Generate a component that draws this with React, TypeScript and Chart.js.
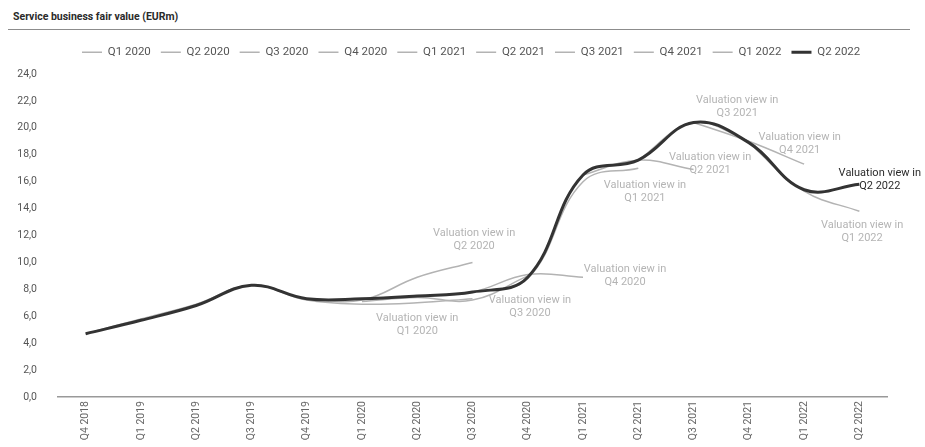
import React, { useEffect, useRef } from 'react';
import { Chart, registerables } from 'chart.js';

Chart.register(...registerables);

// ---------- data ----------
const quarters = [
  'Q4 2018', 'Q1 2019', 'Q2 2019', 'Q3 2019', 'Q4 2019', 'Q1 2020', 'Q2 2020', 'Q3 2020',
  'Q4 2020', 'Q1 2021', 'Q2 2021', 'Q3 2021', 'Q4 2021', 'Q1 2022', 'Q2 2022',
];

const viewNames = [
  'Q1 2020', 'Q2 2020', 'Q3 2020', 'Q4 2020', 'Q1 2021',
  'Q2 2021', 'Q3 2021', 'Q4 2021', 'Q1 2022', 'Q2 2022',
];

const N = null;
const viewQ1_2020 = [4.7, 5.8, 6.9, 8.3, 7.2, 6.9, 7.0, 7.3, N, N, N, N, N, N, N];
const viewQ2_2020 = [N, N, N, N, 7.3, 7.2, 8.9, 10.0, N, N, N, N, N, N, N];
const viewQ3_2020 = [N, N, N, N, N, 7.1, 7.4, 7.2, 9.0, N, N, N, N, N, N];
const viewQ4_2020 = [N, N, N, N, N, N, 7.5, 7.8, 9.1, 8.9, N, N, N, N, N];
const viewQ1_2021 = [N, N, N, N, N, N, N, 7.8, 8.8, 16.0, 17.0, N, N, N, N];
const viewQ2_2021 = [N, N, N, N, N, N, N, N, N, 16.5, 17.6, 16.9, N, N, N];
const viewQ3_2021 = [N, N, N, N, N, N, N, N, N, N, 17.6, 20.4, 19.0, N, N];
const viewQ4_2021 = [N, N, N, N, N, N, N, N, N, N, N, 20.4, 19.0, 17.3, N];
const viewQ1_2022 = [N, N, N, N, N, N, N, N, N, N, N, N, 18.9, 15.3, 13.8];
const viewQ2_2022 = [4.7, 5.7, 6.8, 8.3, 7.3, 7.3, 7.5, 7.8, 8.9, 16.5, 17.6, 20.4, 18.9, 15.4, 15.8];

const seriesValues = [
  viewQ1_2020, viewQ2_2020, viewQ3_2020, viewQ4_2020, viewQ1_2021,
  viewQ2_2021, viewQ3_2021, viewQ4_2021, viewQ1_2022, viewQ2_2022,
];

const yTicks = { min: 0, max: 24, step: 2 };

// annotation anchors in data coordinates (category index, value)
const annotationIndex = [6.0, 7.03, 8.04, 9.76, 10.12, 11.3, 11.79, 12.92, 14.05, 14.37];
const annotationValue = [5.35, 11.66, 6.72, 9.03, 15.23, 17.35, 21.6, 18.83, 12.26, 16.16];

// ---------- styles ----------
const FONT = 'Roboto';
const GRAY_LINE = '#b3b3b3';
const MAIN_LINE = '#333333';
const ANN_GRAY = '#b4b4b4';

const annotationPlugin = {
  id: 'viewAnnotations',
  afterDatasetsDraw(chart: any) {
    const { ctx } = chart;
    const xs = chart.scales.x;
    const ys = chart.scales.y;
    ctx.save();
    ctx.font = `11px ${FONT}`;
    ctx.textAlign = 'center';
    ctx.textBaseline = 'middle';
    viewNames.forEach((name, i) => {
      const x = xs.getPixelForValue(annotationIndex[i]);
      const y = ys.getPixelForValue(annotationValue[i]);
      ctx.fillStyle = i === viewNames.length - 1 ? '#2b2b2b' : ANN_GRAY;
      ctx.fillText('Valuation view in', x, y - 6.5);
      ctx.fillText(name, x, y + 6.5);
    });
    ctx.restore();
  },
};

const legendTweaks = {
  id: 'legendTweaks',
  afterInit(chart: any) {
    const lg = chart.legend;
    if (lg && !lg.__patched) {
      const fit = lg.fit;
      lg.fit = function () {
        fit.call(this);
        this.height += 6;
      };
      lg.__patched = true;
    }
  },
  afterLayout(chart: any) {
    const lg = chart.legend;
    if (lg) {
      const w = lg.right - lg.left;
      lg.left = 72;
      lg.right = 72 + w;
    }
  },
};

export default function App() {
  const canvasRef = useRef<HTMLCanvasElement | null>(null);

  useEffect(() => {
    if (!canvasRef.current) return;
    const last = viewNames.length - 1;
    const chart = new Chart(canvasRef.current, {
      type: 'line',
      data: {
        labels: quarters,
        datasets: viewNames.map((name, i) => ({
          label: name,
          data: seriesValues[i],
          borderColor: i === last ? MAIN_LINE : GRAY_LINE,
          backgroundColor: i === last ? MAIN_LINE : GRAY_LINE,
          borderWidth: i === last ? 3 : 1.5,
          pointRadius: 0,
          tension: 0.4,
          spanGaps: false,
          order: i === last ? 0 : 1,
        })),
      },
      options: {
        responsive: true,
        maintainAspectRatio: false,
        animation: false,
        layout: { padding: { top: 6.5, right: 38, left: 0, bottom: 0 } },
        plugins: {
          legend: {
            display: true,
            position: 'top',
            align: 'start',
            labels: {
              usePointStyle: true,
              pointStyle: 'line',
              pointStyleWidth: 20,
              padding: 10,
              color: '#555',
              font: { family: FONT, size: 11.5 },
              sort: (a: any, b: any) => a.datasetIndex - b.datasetIndex,
            },
          },
          tooltip: { enabled: false },
        },
        scales: {
          x: {
            offset: true,
            grid: { display: false, drawTicks: false, offset: true },
            border: { display: true, color: '#999', width: 1.5 },
            ticks: {
              autoSkip: false,
              minRotation: 90,
              maxRotation: 90,
              padding: 4,
              color: '#666',
              font: { family: FONT, size: 10.5 },
            },
            afterFit: (s: any) => {
              s.height = 50;
            },
          },
          y: {
            min: yTicks.min,
            max: yTicks.max,
            grid: { display: false, drawTicks: false },
            border: { display: false },
            ticks: {
              stepSize: yTicks.step,
              padding: 21,
              color: '#555',
              font: { family: FONT, size: 10.5 },
              callback: (v: any) => Number(v).toFixed(1).replace('.', ','),
            },
            afterFit: (s: any) => {
              s.width = 58;
            },
          },
        },
      } as any,
      plugins: [annotationPlugin, legendTweaks],
    });
    return () => chart.destroy();
  }, []);

  return (
    <div style={{ position: 'absolute', left: 0, top: 0, width: 925, height: 447, overflow: 'hidden' }}>
      <div
        style={{
          position: 'absolute',
          left: 8,
          top: 8,
          fontFamily: FONT,
          fontWeight: 700,
          fontSize: 10.5,
          color: '#2a2a2a',
          height: 21,
          lineHeight: '18px',
          paddingLeft: 5,
          borderBottom: '1px solid #8c8c8c',
          width: 897,
        }}
      >
        Service business fair value (EURm)
      </div>
      <div style={{ position: 'absolute', left: 0, top: 30, width: 925, height: 417 }}>
        <canvas ref={canvasRef} />
      </div>
    </div>
  );
}
